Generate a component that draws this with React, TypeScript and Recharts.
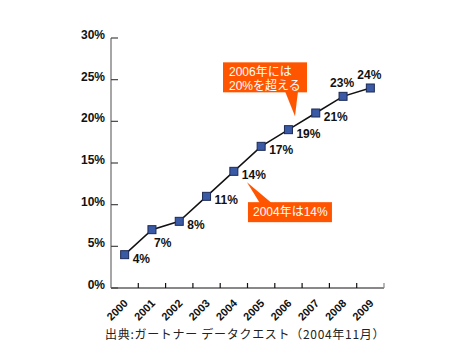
import { LineChart, Line, XAxis, YAxis, LabelList, ReferenceDot } from 'recharts'

const years = ['2000', '2001', '2002', '2003', '2004', '2005', '2006', '2007', '2008', '2009']
const share = [4, 7, 8, 11, 14, 17, 19, 21, 23, 24]
const yTicks = [0, 5, 10, 15, 20, 25, 30]
const note2006 = ['2006年には', '20%を超える']
const note2004 = '2004年は14%'
const source = '出典:ガートナー データクエスト（2004年11月）'

const data = years.map((year, i) => ({ year, idx: i, share: share[i] }))

// label ticks at the categories, short marks between them
const xTicks = [...years.map((_, i) => i), ...years.map((_, i) => i + 0.5)]

const ORANGE = '#ff5500'
const FONT = '"Liberation Sans", Arial, "Noto Sans CJK JP", sans-serif'

const labelSpot: Record<string, 'right' | 'below' | 'above'> = {
  '2001': 'below',
  '2008': 'above',
  '2009': 'above',
}

function YTick(props: any) {
  const { x, y, payload } = props
  return (
    <g>
      <line x1={x} x2={x + 7} y1={y} y2={y} stroke="#444" strokeWidth={1.2} />
      <text x={x - 6} y={y + 1} textAnchor="end" fontSize={12} fontWeight="bold" fill="#111">
        {payload.value}%
      </text>
    </g>
  )
}

function XTick(props: any) {
  const { x, y, payload } = props
  const v = payload.value
  if (Number.isInteger(v)) {
    const tx = x + 4
    const ty = y + 16
    return (
      <text x={tx} y={ty} textAnchor="end" fontSize={11} fontWeight="bold" fill="#111"
        transform={`rotate(-45 ${tx} ${ty})`}>
        {years[v]}
      </text>
    )
  }
  const last = v > years.length - 1
  return <line x1={x} x2={x} y1={y - 5} y2={y} stroke={last ? '#888' : '#111'} strokeWidth={1.2} />
}

function SquareDot(props: any) {
  const { cx, cy, index } = props
  return <rect key={index} x={cx - 4} y={cy - 4} width={8} height={8} fill="#3a5aa6" stroke="#1c2a55" strokeWidth={1} />
}

function ValueLabel(props: any) {
  const { x, y, value, index } = props
  const spot = labelSpot[years[index]] ?? 'right'
  if (spot === 'above') {
    return <text x={x - 1} y={y - 9} textAnchor="middle" fontSize={12} fontWeight="bold" fill="#111">{value}%</text>
  }
  if (spot === 'below') {
    return <text x={x + 2} y={y + 17} textAnchor="start" fontSize={12} fontWeight="bold" fill="#111">{value}%</text>
  }
  return <text x={x + 8} y={y + 8} textAnchor="start" fontSize={12} fontWeight="bold" fill="#111">{value}%</text>
}

function Callout2006(props: any) {
  const { cx, cy } = props
  return (
    <g>
      <rect x={cx - 72} y={cy - 54} width={84} height={30} fill={ORANGE} />
      <polygon points={`${cx - 10},${cy - 25} ${cx + 3},${cy - 25} ${cx},${cy}`} fill={ORANGE} />
      {note2006.map((t, i) => (
        <text key={t} x={cx - 66} y={cy - 40 + i * 14} fontSize={12} fill="#fff">{t}</text>
      ))}
    </g>
  )
}

function Callout2004(props: any) {
  const { cx, cy } = props
  return (
    <g>
      <polygon points={`${cx},${cy} ${cx + 13},${cy + 21} ${cx + 25},${cy + 21}`} fill={ORANGE} />
      <rect x={cx + 1} y={cy + 20} width={84} height={20} fill={ORANGE} />
      <text x={cx + 6} y={cy + 34} fontSize={12} fill="#fff">{note2004}</text>
    </g>
  )
}

export default function App() {
  return (
    <div style={{ position: 'relative', width: 452, height: 352, fontFamily: FONT }}>
      <LineChart width={452} height={352} data={data} margin={{ top: 30, right: 76, left: 53, bottom: 32 }}>
        <XAxis
          dataKey="idx"
          type="number"
          domain={[-0.5, 9.5]}
          ticks={xTicks}
          interval={0}
          tickSize={0}
          tickMargin={0}
          tickLine={false}
          height={40}
          axisLine={{ stroke: '#888', strokeWidth: 2 }}
          tick={<XTick />}
        />
        <YAxis
          type="number"
          domain={[0, 30]}
          ticks={yTicks}
          interval={0}
          tickSize={0}
          tickMargin={0}
          tickLine={false}
          width={50}
          axisLine={{ stroke: '#888', strokeWidth: 1.5 }}
          tick={<YTick />}
        />
        <Line
          dataKey="share"
          type="linear"
          stroke="#111"
          strokeWidth={1.5}
          dot={SquareDot}
          activeDot={false}
          isAnimationActive={false}
        >
          <LabelList dataKey="share" content={ValueLabel} />
        </Line>
        <ReferenceDot x={6.24} y={20.6} shape={Callout2006} />
        <ReferenceDot x={4.48} y={12.7} shape={Callout2004} />
      </LineChart>
      <div style={{ position: 'absolute', left: 97, top: 317, fontSize: 12, letterSpacing: 0.7, color: '#222', fontFamily: '"Noto Sans CJK JP", sans-serif', whiteSpace: 'nowrap' }}>
        {source}
      </div>
    </div>
  )
}
